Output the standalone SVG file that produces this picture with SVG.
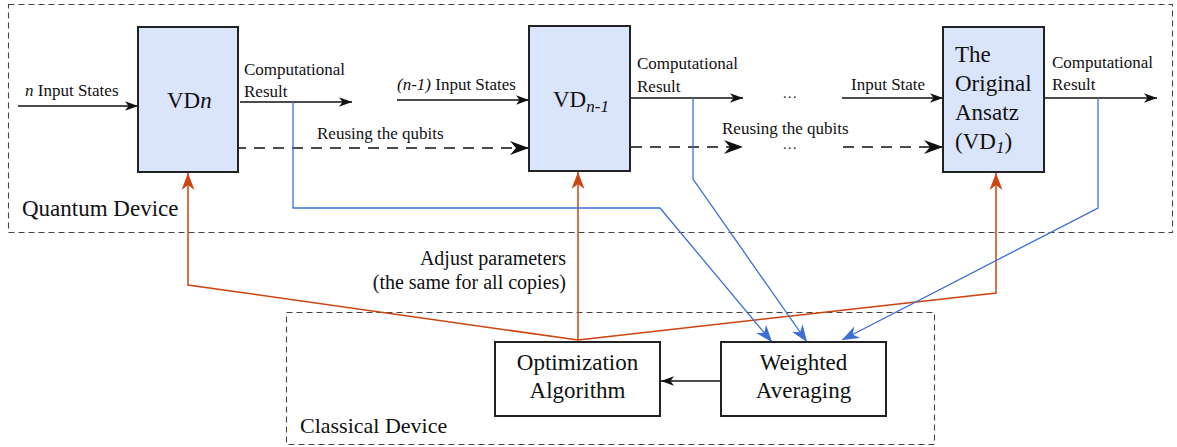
<svg xmlns="http://www.w3.org/2000/svg" width="1177" height="447" viewBox="0 0 1177 447">
<defs>
<style>
.t{fill:#111}
.s17{font-size:17px}
.s23{font-size:23px}
.box{fill:#dae4fb;stroke:#222;stroke-width:2}
.wbox{fill:#fff;stroke:#222;stroke-width:2}
.frame{fill:none;stroke:#444;stroke-width:1.1;stroke-dasharray:6 4}
.ar{fill:none;stroke:#111;stroke-width:1.3}
.da{fill:none;stroke:#111;stroke-width:1.4;stroke-dasharray:11 8}
.or{fill:none;stroke:#cc4410;stroke-width:1.5}
.bl{fill:none;stroke:#3a6fd6;stroke-width:1.3}
</style>
<marker id="ab" viewBox="-14 -6 15 12" markerWidth="15" markerHeight="12" refX="0" refY="0" orient="auto" markerUnits="userSpaceOnUse"><path d="M0,0 L-13,-4.8 L-9.5,0 L-13,4.8 Z" fill="#111"/></marker>
<marker id="ad" viewBox="-20 -8 21 16" markerWidth="21" markerHeight="16" refX="0" refY="0" orient="auto" markerUnits="userSpaceOnUse"><path d="M0,0 L-19,-7 L-13,0 L-19,7 Z" fill="#111"/></marker>
<marker id="ao" viewBox="-18 -8 19 16" markerWidth="19" markerHeight="16" refX="0" refY="0" orient="auto" markerUnits="userSpaceOnUse"><path d="M0,0 L-17,-6.5 L-12,0 L-17,6.5 Z" fill="#cc4410"/></marker>
<marker id="abl" viewBox="-18 -8 19 16" markerWidth="19" markerHeight="16" refX="0" refY="0" orient="auto" markerUnits="userSpaceOnUse"><path d="M0,0 L-17,-6.5 L-12,0 L-17,6.5 Z" fill="#3a6fd6"/></marker>
</defs>
<rect width="1177" height="447" fill="#fff"/>
<g font-family="Liberation Serif, serif">
<g id="quantum-device">
<rect class="frame" x="8.5" y="4.5" width="1164" height="228"/>
<text class="t" x="22" y="216" font-size="23">Quantum Device</text>
</g>
<g id="classical-device">
<rect class="frame" x="286.5" y="312.5" width="648" height="132"/>
<text class="t" x="300" y="433" font-size="22">Classical Device</text>
</g>

<g id="connectors">
<path class="ar" d="M18,106 L138,106" marker-end="url(#ab)"/>
<path class="ar" d="M240,102 L352,102" marker-end="url(#ab)"/>
<path class="da" d="M235,148 L529,148" marker-end="url(#ad)"/>
<path class="ar" d="M397,100 L529,100" marker-end="url(#ab)"/>
<path class="ar" d="M631,98 L743,98" marker-end="url(#ab)"/>
<path class="da" d="M631,147 L743,147" marker-end="url(#ad)"/>
<path class="ar" d="M842,98 L943,98" marker-end="url(#ab)"/>
<path class="da" d="M843,147 L943,147" marker-end="url(#ad)"/>
<path class="ar" d="M1045,98 L1157,98" marker-end="url(#ab)"/>
<path class="ar" d="M721,381 L661,381" marker-end="url(#ab)"/>
<path class="or" d="M578,340 L188,285 L188,173" marker-end="url(#ao)"/>
<path class="or" d="M578,340 L578,172" marker-end="url(#ao)"/>
<path class="or" d="M578,340 L996,293 L996,173" marker-end="url(#ao)"/>
<path class="bl" d="M293,102 L293,208 L660,208 L772,342" marker-end="url(#abl)"/>
<path class="bl" d="M693,98 L693,179 L807,342" marker-end="url(#abl)"/>
<path class="bl" d="M1098,98 L1098,208 L842,340" marker-end="url(#abl)"/>
</g>

<g id="labels">
<text class="t s17" x="25" y="96"><tspan font-style="italic">n</tspan> Input States</text>
<text class="t s17" x="244" y="75">Computational</text>
<text class="t s17" x="244" y="97">Result</text>
<text class="t s17" x="317" y="139">Reusing the qubits</text>
<text class="t s17" x="397" y="90"><tspan font-style="italic">(n-1)</tspan> Input States</text>
<text class="t s17" x="637" y="69">Computational</text>
<text class="t s17" x="637" y="92">Result</text>
<text class="t s17" x="722" y="134">Reusing the qubits</text>
<text class="t" x="783" y="98" font-size="14" letter-spacing="1.5">...</text>
<text class="t" x="783" y="149" font-size="14" letter-spacing="1.5">...</text>
<text class="t s17" x="851" y="90">Input State</text>
<text class="t s17" x="1052" y="68">Computational</text>
<text class="t s17" x="1052" y="90">Result</text>
<text class="t" x="566" y="265" font-size="20" text-anchor="end">Adjust parameters</text>
<text class="t" x="566" y="289" font-size="20" text-anchor="end">(the same for all copies)</text>
</g>

<g id="vd-n">
<rect class="box" x="138" y="27" width="100" height="145"/>
<text class="t s23" x="167" y="108">VD<tspan font-style="italic">n</tspan></text>
</g>
<g id="vd-n-1">
<rect class="box" x="529" y="26" width="101" height="145"/>
<text class="t s23" x="553" y="107">VD<tspan font-style="italic" font-size="17" dy="5">n-1</tspan></text>
</g>
<g id="vd-1">
<rect class="box" x="943" y="27" width="101" height="145"/>
<text class="t s23" x="955" y="62">The</text>
<text class="t s23" x="955" y="91">Original</text>
<text class="t s23" x="955" y="120">Ansatz</text>
<text class="t s23" x="955" y="149">(VD<tspan font-style="italic" font-size="17" dy="4">1</tspan><tspan dy="-4">)</tspan></text>
</g>
<g id="optimization">
<rect class="wbox" x="495" y="342" width="165" height="74"/>
<text class="t s23" x="577.5" y="370" text-anchor="middle">Optimization</text>
<text class="t s23" x="577.5" y="398" text-anchor="middle">Algorithm</text>
</g>
<g id="weighted">
<rect class="wbox" x="721" y="342" width="165" height="74"/>
<text class="t s23" x="803.5" y="370" text-anchor="middle">Weighted</text>
<text class="t s23" x="803.5" y="398" text-anchor="middle">Averaging</text>
</g>
</g>
</svg>
